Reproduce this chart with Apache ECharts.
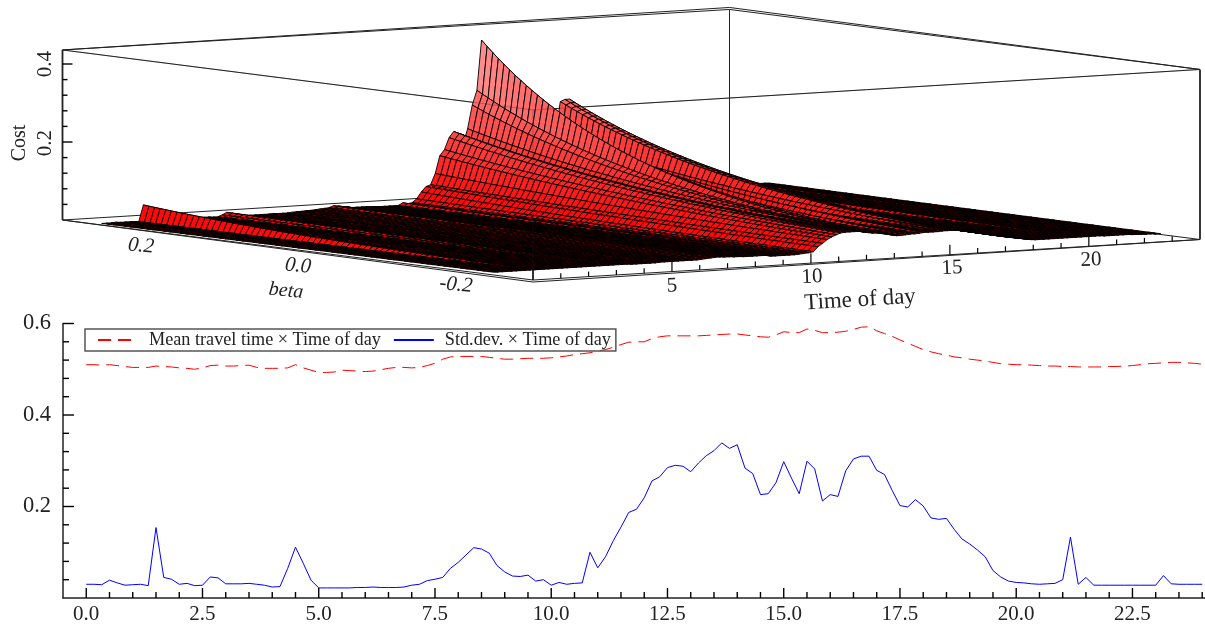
<!DOCTYPE html>
<html><head><meta charset="utf-8">
<style>html,body{margin:0;padding:0;background:#fff}#c{width:1205px;height:626px}</style>
<script src="https://cdn.jsdelivr.net/npm/echarts@6/dist/echarts.min.js"></script>
</head><body><div id="c"></div>
<script>
// Values, one every 10 minutes (6 per hour, 00:00 to 24:00)
const meanTravelTime=[
.510,.510,.509,.510,.508,.506, .504,.504,.504,.507,.506,.505, .503,.502,.500,.503,.508,.509,
.507,.507,.508,.509,.504,.502, .502,.502,.503,.510,.503,.498, .493,.493,.494,.498,.497,.496,
.495,.496,.499,.502,.504,.504, .503,.504,.508,.513,.522,.527, .528,.528,.528,.528,.526,.524,
.522,.522,.523,.524,.524,.524, .525,.527,.529,.532,.534,.536, .540,.543,.548,.554,.559,.560,
.560,.567,.571,.573,.573,.573, .573,.573,.574,.575,.576,.577, .577,.575,.573,.571,.570,.575,
.582,.580,.580,.588,.585,.580, .580,.581,.583,.587,.592,.593, .584,.578,.572,.564,.557,.550,
.543,.538,.534,.531,.527,.525, .522,.520,.518,.515,.512,.511, .510,.510,.509,.508,.507,.507,
.506,.506,.505,.505,.505,.505, .506,.506,.507,.508,.510,.512, .513,.514,.515,.515,.514,.513,.511];
const stdDev=[
.030,.030,.029,.039,.033,.028, .029,.030,.027,.154,.045,.041, .030,.032,.027,.028,.046,.044,
.031,.031,.031,.032,.030,.028, .024,.025,.065,.111,.076,.039, .022,.022,.022,.022,.022,.023,
.023,.024,.023,.023,.023,.024, .028,.030,.038,.041,.045,.065, .078,.094,.110,.107,.098,.071,
.057,.048,.047,.050,.037,.040, .028,.034,.030,.032,.033,.100, .066,.090,.125,.155,.187,.194,
.219,.256,.265,.285,.290,.288, .276,.295,.311,.322,.339,.327, .335,.284,.272,.226,.228,.252,
.298,.262,.228,.299,.282,.212, .226,.222,.278,.304,.310,.310, .279,.270,.235,.202,.199,.215,
.201,.175,.172,.174,.150,.129, .118,.105,.090,.060,.046,.037, .034,.033,.031,.030,.031,.032,
.040,.133,.030,.045,.028,.028, .028,.028,.028,.028,.028,.028, .028,.049,.031,.030,.030,.030,.030];
// Cost along the two long edges of the surface
const costAtBetaHigh=[
.004,.004,.004,.005,.004,.004, .004,.004,.003,.045,.006,.005, .004,.004,.003,.004,.006,.006,
.004,.004,.004,.004,.004,.004, .003,.003,.007,.013,.008,.005, .002,.002,.002,.002,.002,.002,
.002,.003,.002,.002,.002,.003, .004,.004,.005,.005,.006,.007, .008,.009,.013,.012,.010,.008,
.006,.006,.006,.006,.005,.005, .004,.004,.004,.004,.004,.010, .007,.009,.018,.035,.048,.052,
.080,.125,.140,.170,.185,.180, .150,.190,.250,.287,.415,.300, .360,.165,.140,.078,.080,.115,
.200,.125,.085,.200,.170,.065, .080,.075,.160,.245,.250,.250, .165,.145,.095,.058,.055,.070,
.058,.043,.042,.043,.033,.022, .016,.012,.009,.007,.006,.005, .005,.005,.004,.004,.004,.004,
.005,.022,.004,.006,.004,.004, .004,.004,.004,.004,.004,.004, .004,.006,.004,.004,.004,.004,.004];
const costAtBetaLow=[
.007,.007,.007,.007,.007,.007, .007,.007,.007,.007,.007,.007, .007,.007,.007,.007,.007,.007,
.007,.007,.007,.007,.007,.007, .007,.007,.007,.007,.007,.007, .006,.006,.006,.006,.006,.006,
.007,.007,.007,.007,.007,.007, .007,.007,.007,.008,.009,.010, .011,.011,.010,.010,.009,.009,
.008,.008,.008,.008,.008,.008, .005,.005,.005,.005,.005,.005, .006,.007,.008,.010,.022,.030,
.039,.045,.050,.054,.055,.055, .055,.055,.052,.050,.048,.048, .047,.045,.042,.038,.038,.039,
.040,.040,.041,.042,.042,.042, .042,.043,.043,.043,.042,.041, .040,.038,.036,.033,.031,.028,
.025,.022,.019,.017,.015,.013, .011,.009,.007,.006,.006,.006, .006,.006,.006,.006,.006,.006,
.006,.006,.006,.006,.006,.006, .005,.005,.005,.005,.005,.005, .004,.004,.003,.003,.003,.002,.002];
const xTickLabels=[0,2.5,5,7.5,10,12.5,15,17.5,20,22.5];
const xMinorTicks=[.5,1,1.5,2,3,3.5,4,4.5,5.5,6,6.5,7,8,8.5,9,9.5,10.5,11,11.5,12,13,13.5,14,14.5,15.5,16,16.5,17,18,18.5,19,19.5,20.5,21,21.5,22,23,23.5,24];
const yMajorTicks=[.2,.4,.6];
const yMinorTicks=[.04,.08,.12,.16,.24,.28,.32,.36,.44,.48,.52,.56];
const costTicks=[.04,.08,.12,.16,.2,.24,.28,.32,.36,.4];
const hourTicks=[1,2,3,4,5,6,7,8,9,10,11,12,13,14,15,16,17,18,19,20,21,22,23];
const nameMean='Mean travel time × Time of day', nameStd='Std.dev. × Time of day';

const timeOfDay=stdDev.map((_,i)=>i/6);
const betaEdge=.25, betaCells=70, betaBox=.3, costBox=.436;
const betaStep=2*betaEdge/betaCells;
const SERIF='"Liberation Serif","Times New Roman",serif', INK='#222';

// Oblique view of the box: where its three bottom corners fall in the view axes
const cornerL=[62.5,220], cornerF=[533,280], cornerR=[1200,239.5], costPx=390;
function view(t,b,z){
  const u=(betaBox-b)/(2*betaBox), v=t/24;
  return [cornerL[0]+u*(cornerF[0]-cornerL[0])+v*(cornerR[0]-cornerF[0]),
          cornerL[1]+u*(cornerF[1]-cornerL[1])+v*(cornerR[1]-cornerF[1])-z*costPx];
}
function cost(ti,b){
  const w=Math.pow((b+betaEdge)/(2*betaEdge),1.15);
  return Math.exp(Math.log(costAtBetaLow[ti])*(1-w)+Math.log(costAtBetaHigh[ti])*w);
}
function shade(z){
  const k=Math.min(1,Math.max(0,(z-.03)/.4)), g=Math.round(10+k*165);
  return 'rgb(255,'+g+','+g+')';
}
// cells, far corner first so nearer cells paint over them
const cells=[];
for(let i=timeOfDay.length-2;i>=0;i--) for(let j=0;j<betaCells;j++) cells.push([i,j]);

// box edges as [t1,beta1,cost1,t2,beta2,cost2,shift1,shift2]
const B=betaBox,Z=costBox;
const backEdges=[
 [0,B,Z,24,B,Z,0,0],[0,B,Z,24,B,Z,0,-2],[24,B,Z,24,-B,Z,0,0],[24,B,Z,24,-B,Z,-2,0],
 [24,B,0,24,B,Z,0,0],[0,B,0,24,B,0,0,0],[24,B,0,24,-B,0,0,0],
 [0,B,Z,0,-B,Z,0,0],[0,-B,Z,24,-B,Z,0,0],[0,-B,0,0,-B,Z,0,0]];
const sideEdges=[[0,B,0,0,B,Z,0,0],[24,-B,0,24,-B,Z,0,0]];
const frontOverlay=[[0,-B,Z,0,-B,0,0,0],[0,B,Z,0,-B,Z,0,0],[0,-B,Z,24,-B,Z,0,0]];
const floorEdges=[[0,B,0,0,-B,0,0,0],[0,B,0,0,-B,0,0,2],[0,-B,0,24,-B,0,0,0],[0,-B,0,24,-B,0,2,0]];
const tickSegs=[];
costTicks.forEach((z,i)=>tickSegs.push(['c',z,(i%5==4)?10:5]));
hourTicks.forEach(h=>tickSegs.push(['t',h,(h%5==0)?10:5]));
tickSegs.push(['t',0,10]);

function edgeSeries(list,op,w){
  return {type:'custom',xAxisIndex:2,yAxisIndex:1,animation:false,silent:true,clip:false,data:list.map((_,i)=>[i]),
    renderItem(p,api){
      const e=list[api.value(0)],a=api.coord(view(e[0],e[1],e[2])),c=api.coord(view(e[3],e[4],e[5]));
      return {type:'line',shape:{x1:a[0],y1:a[1]+e[6],x2:c[0],y2:c[1]+e[7]},style:{stroke:INK,lineWidth:w,opacity:op}};
    }};
}
const surfaceSeries={type:'custom',xAxisIndex:2,yAxisIndex:1,animation:false,silent:true,clip:false,progressive:0,
  data:cells,
  renderItem(p,api){
    const i=api.value(0),j=api.value(1),b0=betaEdge-j*betaStep,b1=betaEdge-(j+1)*betaStep;
    const t0=timeOfDay[i],t1=timeOfDay[i+1];
    const z00=cost(i,b0),z01=cost(i,b1),z10=cost(i+1,b0),z11=cost(i+1,b1);
    return {type:'polygon',shape:{points:[view(t0,b0,z00),view(t0,b1,z01),view(t1,b1,z11),view(t1,b0,z10)].map(q=>api.coord(q))},
      style:{fill:shade((z00+z01+z10+z11)/4),stroke:'#000',lineWidth:.9}};
  }};
const tickSeries={type:'custom',xAxisIndex:2,yAxisIndex:1,animation:false,silent:true,clip:false,data:tickSegs.map((_,i)=>[i]),
  renderItem(p,api){
    const s=tickSegs[api.value(0)];
    if(s[0]=='c'){const a=api.coord(view(0,B,s[1]));
      return {type:'line',shape:{x1:a[0],y1:a[1],x2:a[0]+s[2],y2:a[1]},style:{stroke:'#000',lineWidth:1.4}};}
    const a=api.coord(view(s[1],-B,0));
    return {type:'line',shape:{x1:a[0],y1:a[1],x2:a[0],y2:a[1]-s[2]},style:{stroke:'#000',lineWidth:1.2}};
  }};
// inward ticks of the lower panel, placed through its own axes
const lowerTicks=[
  ...xTickLabels.map(v=>['x',v,10]),...xMinorTicks.map(v=>['x',v,6]),
  ...yMajorTicks.map(v=>['y',v,11]),...yMinorTicks.map(v=>['y',v,6])];
const lowerTickSeries={type:'custom',xAxisIndex:0,yAxisIndex:0,animation:false,silent:true,clip:false,z:5,data:lowerTicks.map((_,i)=>[i,i]),
  renderItem(p,api){
    const s=lowerTicks[api.value(0)];
    if(s[0]=='x'){const a=api.coord([s[1],0]);
      return {type:'line',shape:{x1:a[0],y1:a[1],x2:a[0],y2:a[1]-s[2]},style:{stroke:'#000',lineWidth:1.4}};}
    const a=api.coord([-.5,s[1]]);
    return {type:'line',shape:{x1:a[0],y1:a[1],x2:a[0]+s[2],y2:a[1]},style:{stroke:'#000',lineWidth:1.4}};
  }};

function label(text,x,y,size,rot,italic){
  return {type:'text',x,y,rotation:rot||0,silent:true,style:{text,fill:INK,font:(italic?'italic ':'')+size+'px '+SERIF,align:'center',verticalAlign:'middle'}};
}
const chart=echarts.init(document.getElementById('c'),null,{renderer:'canvas'});
chart.setOption({
  animation:false,backgroundColor:'#fff',
  grid:[{left:63,top:323.5,width:1142,height:274.5,containLabel:false},{left:0,top:0,width:1205,height:626}],
  xAxis:[
   {type:'value',gridIndex:0,position:'bottom',min:-.5,max:24.06,splitLine:{show:false},
    axisLine:{onZero:false,lineStyle:{color:INK,width:1.5}},
    axisTick:{show:false},
    axisLabel:{customValues:xTickLabels,formatter:v=>v.toFixed(1),fontFamily:SERIF,fontSize:21,color:INK,margin:6}},
   {type:'value',gridIndex:0,position:'bottom',min:-.5,max:24.06,show:false},
   {type:'value',gridIndex:1,min:0,max:1205,show:false}],
  yAxis:[
   {type:'value',gridIndex:0,position:'left',min:0,max:.6,interval:.2,splitLine:{show:false},
    axisLine:{show:true,onZero:false,lineStyle:{color:INK,width:1.5}},
    axisTick:{show:false},
    axisLabel:{formatter:v=>v==0?'':v.toFixed(1),fontFamily:SERIF,fontSize:22.5,color:INK,margin:12}},
   {type:'value',gridIndex:1,min:0,max:626,inverse:true,show:false}],
  legend:{data:[nameMean,nameStd],left:85,top:329,orient:'horizontal',padding:[2,5,2,12],itemGap:12,itemWidth:40,itemHeight:10,
    backgroundColor:'transparent',borderColor:'#555',borderWidth:1.5,borderRadius:0,
    itemStyle:{opacity:0},
    textStyle:{fontFamily:SERIF,fontSize:18.2,color:INK,padding:[0,0,0,6]}},
  series:[
   edgeSeries(backEdges,1,1),
   surfaceSeries,
   edgeSeries(frontOverlay,.3,1),
   edgeSeries(sideEdges,1,1.8),
   edgeSeries(floorEdges,1,1),
   tickSeries,
   lowerTickSeries,
   {name:nameMean,type:'line',xAxisIndex:0,yAxisIndex:0,showSymbol:false,symbol:'none',silent:true,
    lineStyle:{color:'#ff0000',width:1,type:[13,7]},itemStyle:{color:'#ff0000'},
    data:timeOfDay.map((t,i)=>[t,meanTravelTime[i]])},
   {name:nameStd,type:'line',xAxisIndex:0,yAxisIndex:0,showSymbol:false,symbol:'none',silent:true,
    lineStyle:{color:'#0000ff',width:1},itemStyle:{color:'#0000ff'},
    data:timeOfDay.map((t,i)=>[t,stdDev[i]])}
  ],
  graphic:{elements:[
    label('Cost',20,143,20,Math.PI/2),
    label('0.4',45,64,21,Math.PI/2),
    label('0.2',45,143,21,Math.PI/2),
    label('0.2',141,246,21,-.1,true),
    label('0.0',298,266,21,-.1,true),
    label('-0.2',456,285,21,-.1,true),
    label('beta',286,291,20,-.1,true),
    label('5',672,286,21,.04),
    label('10',812,277,21,.04),
    label('15',952,268,21,.04),
    label('20',1091,260,21,.04),
    label('Time of day',860,300,23,.06)
  ]}
});
</script></body></html>
